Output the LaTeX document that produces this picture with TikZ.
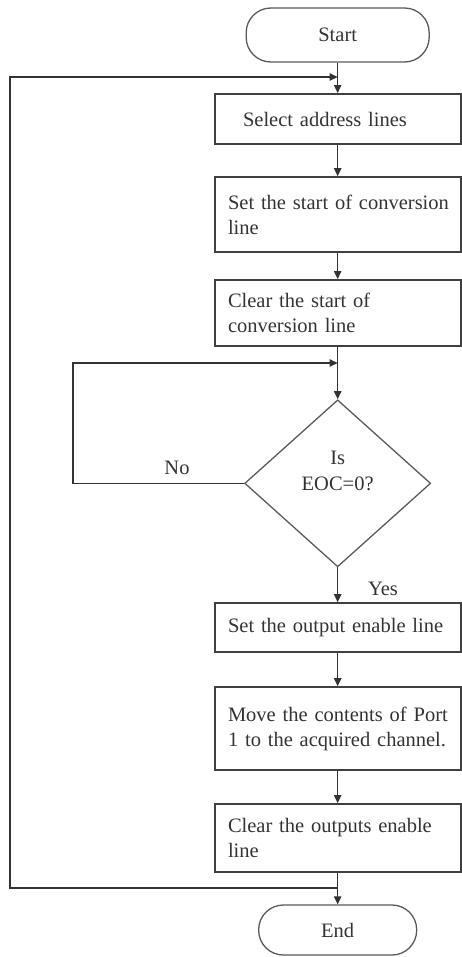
\documentclass[tikz,border=0pt]{standalone}
\usepackage{fontspec}
\setmainfont{Liberation Serif}
\usetikzlibrary{arrows.meta,shapes.geometric}
\begin{document}
\begin{tikzpicture}[
    font=\fontsize{17.5}{21.5}\selectfont,
    terminal/.style={rectangle, draw=black!65, line width=1.1pt, rounded corners=0.74cm, minimum width=5.49cm, text=black!80},
    stepbox/.style={rectangle, draw=black!75, line width=1.6pt, text width=6.58cm, inner xsep=0.4cm, align=left, text=black!80, execute at begin node={\hfuzz=1cm\relax}},
    decision/.style={diamond, draw=black!65, line width=1.1pt, minimum width=5.58cm, minimum height=5.01cm, inner sep=0pt, align=center, text=black!80},
    arrow/.style={-{Triangle[length=0.24cm, width=0.22cm]}, draw=black!80, line width=1.2pt}
]
\useasboundingbox (0,0) rectangle (13.86,-28.71);

% Start and end
\node[terminal, minimum height=1.62cm] (start) at (10.13,-1.05) {Start};
\node[terminal, minimum width=4.74cm, minimum height=1.5cm] (end) at (10.13,-27.9) {End};

% Steps
\node[stepbox, minimum height=1.5cm] (select) at (10.13,-3.57) {\hspace*{0.45cm}Select address lines};
\node[stepbox, minimum height=2.25cm] (setsoc) at (10.13,-6.44) {\mbox{Set the start of conversion}\\line};
\node[stepbox, minimum height=1.98cm] (clearsoc) at (10.13,-9.39) {Clear the start of\\conversion line};

% Decision
\node[decision] (eoc) at (10.13,-14.5) {Is\\EOC=0?\\\mbox{}};
\node[text=black!80] (no) at (5.31,-14.04) {No};
\node[text=black!80] (yes) at (11.49,-17.67) {Yes};

\node[stepbox, minimum height=1.47cm] (setoe) at (10.13,-18.83) {Set the output enable line};
\node[stepbox, minimum height=2.49cm] (move) at (10.13,-21.86) {\mbox{Move the contents of Port}\\\mbox{1 to the acquired channel.}};
\node[stepbox, minimum height=2.04cm] (clearoe) at (10.13,-25.14) {\mbox{Clear the outputs enable}\\line};

% Join points of the loops
\coordinate (topjoin) at (10.13,-2.31);
\coordinate (loopjoin) at (10.13,-10.89);
\coordinate (botjoin) at (10.13,-26.64);
\coordinate (outerleft) at (0.3,-26.64);
\coordinate (innerleft) at (2.19,-14.5);

% Arrows
\draw[arrow] (start) -- (select);
\draw[arrow] (select) -- (setsoc);
\draw[arrow] (setsoc) -- (clearsoc);
\draw[arrow] (clearsoc) -- (eoc);
\draw[arrow] (eoc) -- (setoe);
\draw[arrow] (setoe) -- (move);
\draw[arrow] (move) -- (clearoe);
\draw[arrow] (clearoe) -- (end);

% Loops
\draw[arrow] (eoc) -- (innerleft) |- (loopjoin);
\draw[arrow] (botjoin) -- (outerleft) |- (topjoin);

\end{tikzpicture}
\end{document}
